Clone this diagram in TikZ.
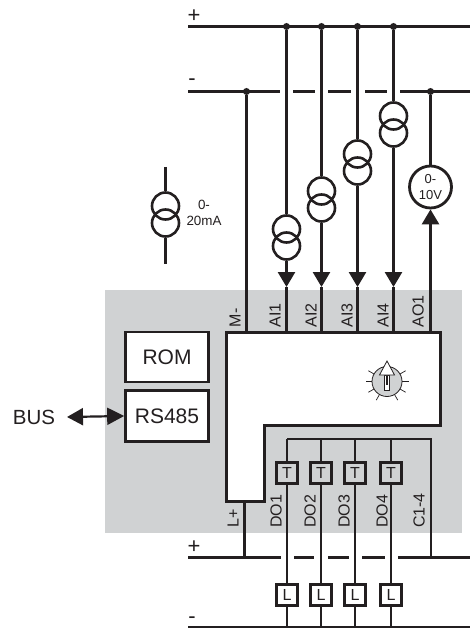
\documentclass[tikz,border=0pt]{standalone}
\usepackage{fontspec}
\setmainfont{Liberation Sans}
\usetikzlibrary{arrows.meta}
\definecolor{ink}{HTML}{231F20}
\definecolor{panel}{HTML}{D0D2D3}
\tikzset{
  wire/.style={draw=ink,line width=2.7pt},
  thin wire/.style={draw=ink,line width=2.3pt},
  pad/.style={circle,fill=ink,inner sep=0pt,minimum size=7pt},
  ring/.style={circle,draw=ink,line width=2.6pt,inner sep=0pt,minimum size=27pt},
  meter/.style={circle,draw=ink,line width=2.8pt,fill=white,inner sep=0pt,minimum size=42pt,align=center,font=\fontsize{13}{15.5}\selectfont,text=ink},
  pin/.style={rotate=90,anchor=west,inner sep=0pt,font=\fontsize{16}{16}\selectfont,text=ink},
  lbl/.style={inner sep=0pt,text=ink},
  railsign/.style={lbl,font=\fontsize{22}{22}\selectfont},
  blk/.style={draw=ink,line width=2.7pt,fill=white,inner sep=0pt,minimum width=83pt,text=ink,font=\fontsize{21}{21}\selectfont},
  tbox/.style={draw=ink,line width=2.8pt,inner sep=0pt,minimum size=20.5pt,text=ink,font=\fontsize{16}{16}\selectfont},
  head/.style={-{Triangle[length=15pt,width=17pt]},wire},
}
\newcommand{\sourcesym}[3]{%
  \node[ring] (#1a) at (#2,#3) {};
  \node[ring] (#1b) at (#2,#3+17) {};
}
\begin{document}
\begin{tikzpicture}[x=1pt,y=-1pt]
\useasboundingbox (0,0) rectangle (470,628);
% panel
\fill[panel] (105,290) rectangle (462,533);
% rails
\coordinate (pL) at (188,26.5); \coordinate (pR) at (470,26.5);
\coordinate (mL) at (188,91.5); \coordinate (mR) at (470,91.5);
\coordinate (qL) at (188,557.5); \coordinate (qR) at (470,557.5);
\coordinate (nL) at (188,627); \coordinate (nR) at (470,627);
\draw[wire] (pL) -- (pR);
\draw[wire] (mL) -- (280,91.5) (293,91.5) -- (315,91.5) (328,91.5) -- (351,91.5) (365,91.5) -- (387,91.5) (400,91.5) -- (mR);
\draw[wire] (qL) -- (281,557.5) (294,557.5) -- (314,557.5) (328,557.5) -- (349,557.5) (362,557.5) -- (385,557.5) (398,557.5) -- (qR);
\draw[wire] (nL) -- (nR);
\node[railsign] (tplus) at (194,16) {+};
\node[railsign] (tminus) at (192,82) {-};
\node[railsign] (bplus) at (194,547) {+};
\node[railsign] (bminus) at (192,620) {-};
% main block
\draw[wire,fill=white,line join=miter] (226.5,332.5) -- (440.5,332.5) -- (440.5,425.5) -- (264.5,425.5) -- (264.5,501.5) -- (226.5,501.5) -- cycle;
\coordinate (bTop1) at (286.5,332); \coordinate (bTop2) at (321.5,332);
\coordinate (bTop3) at (357.5,332); \coordinate (bTop4) at (393.5,332);
\coordinate (bM) at (246.5,332); \coordinate (bA) at (430.5,332);
\coordinate (bL) at (244.5,501); \coordinate (qLp) at (244.5,557.5);
\coordinate (qC) at (431,557.5);
% M- wire
\node[pad] (dM) at (246.5,91.5) {};
\draw[wire] (dM) -- (bM);
% dots on plus rail
\node[pad] (d1) at (286.5,26.5) {};
\node[pad] (d2) at (321.5,26.5) {};
\node[pad] (d3) at (357.5,26.5) {};
\node[pad] (d4) at (393.5,26.5) {};
% current sources
\sourcesym{s1}{286.5}{229}
\sourcesym{s2}{321.5}{191}
\sourcesym{s3}{357.5}{154}
\sourcesym{s4}{393.5}{116}
\draw[wire] (d1) -- (s1a.north);
\draw[wire] (d2) -- (s2a.north);
\draw[wire] (d3) -- (s3a.north);
\draw[wire] (d4) -- (s4a.north);
\coordinate (ah1) at (286.5,287); \coordinate (ah2) at (321.5,287);
\coordinate (ah3) at (357.5,287); \coordinate (ah4) at (393.5,287);
\foreach \i in {1,2,3,4}{
  \draw[head] (s\i b.south) -- (ah\i);
  \draw[wire] (ah\i) -- (bTop\i);
}
% voltmeter
\node[pad] (dA) at (430.5,91.5) {};
\node[meter] (vm) at (430.5,187) {0-\\10V};
\draw[wire] (dA) -- (vm.north);
\draw[head] (bA) -- (vm.south);
% legend source
\sourcesym{s0}{165.5}{206}
\coordinate (l0a) at (165.5,167); \coordinate (l0b) at (165.5,264);
\draw[wire] (l0a) -- (s0a.north);
\draw[wire] (s0b.south) -- (l0b);
\node[lbl,align=center,font=\fontsize{13.4}{16}\selectfont] (lmA) at (204,213) {0-\\20mA};
% top pin labels
\node[pin] (pM) at (235,327.5) {M-};
\node[pin] (pa1) at (275,327.5) {AI1};
\node[pin] (pa2) at (311,327.5) {AI2};
\node[pin] (pa3) at (347,327.5) {AI3};
\node[pin] (pa4) at (383,327.5) {AI4};
\node[pin] (pao) at (418,327.5) {AO1};
% ROM, RS485
\node[blk,minimum height=50pt] (rom) at (167,357) {ROM\hspace{8pt}};
\node[blk,minimum height=51pt] (rs) at (167,416) {RS485};
\node[lbl,font=\fontsize{20.5}{20.5}\selectfont] (bus) at (34,417) {BUS};
\coordinate (busEnd) at (67,417);
\draw[{Triangle[length=16pt,width=17pt]}-{Triangle[length=17pt,width=17pt]},ink,line width=2.2pt] (busEnd) -- (rs.west);
% knob
\coordinate (kc) at (387,381.5);
\foreach \a in {0,30,60,120,150,180,210,330}{
  \draw[ink,line width=0.7pt] (kc) ++(\a:14.5) -- ++(\a:7);
}
\fill[panel,draw=ink,line width=0.8pt] (kc) circle (15);
\draw[ink,line width=0.8pt,fill=white] (384.5,375) rectangle (389.5,390);
\draw[ink,line width=0.8pt,fill=white,line join=miter] (387,361) -- (394.5,375) -- (379.5,375) -- cycle;
\draw[ink,line width=1.6pt] (387,376) -- (387,385);
% output bracket
\coordinate (cA) at (287,439); \coordinate (cB) at (431,439);
\coordinate (c1) at (287,439); \coordinate (c2) at (321,439);
\coordinate (c3) at (355,439); \coordinate (c4) at (391,439);
\coordinate (n1) at (287,627); \coordinate (n2) at (321,627);
\coordinate (n3) at (355,627); \coordinate (n4) at (391,627);
\draw[thin wire,line join=miter] (cA) -- (cB) -- (qC);
\draw[wire] (bL) -- (qLp);
\foreach \i in {1,2,3,4}{
  \draw[thin wire] (c\i) -- (n\i);
}
\node[tbox,fill=panel] (t1) at (287,473) {T};
\node[tbox,fill=panel] (t2) at (321,473) {T};
\node[tbox,fill=panel] (t3) at (355,473) {T};
\node[tbox,fill=panel] (t4) at (391,473) {T};
\node[tbox,fill=white] (l1) at (287,595) {L};
\node[tbox,fill=white] (l2) at (321,595) {L};
\node[tbox,fill=white] (l3) at (355,595) {L};
\node[tbox,fill=white] (l4) at (391,595) {L};
% bottom pin labels
\node[pin] (pL) at (233,528) {L+};
\node[pin] (po1) at (276,528) {DO1};
\node[pin] (po2) at (310,528) {DO2};
\node[pin] (po3) at (344,528) {DO3};
\node[pin] (po4) at (382,528) {DO4};
\node[pin] (pc) at (419,528) {C1-4};
\end{tikzpicture}
\end{document}
